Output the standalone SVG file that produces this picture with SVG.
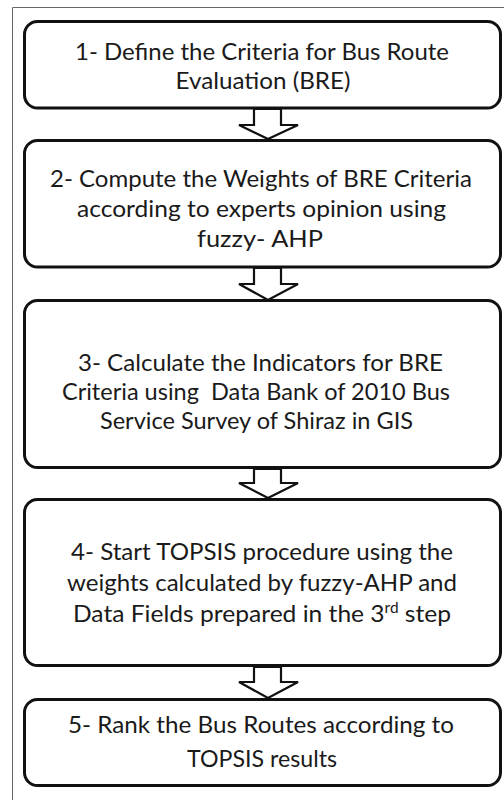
<svg xmlns="http://www.w3.org/2000/svg" width="504" height="800" viewBox="0 0 504 800">
<style>
.box{fill:#fff;stroke:#111;stroke-width:3}
.arr{fill:#fff;stroke:#111;stroke-width:2.2;stroke-linejoin:miter}
.t{font-family:Lato,"Open Sans","Liberation Sans",sans-serif;font-size:24px;fill:#1a1a1a;text-anchor:middle}
.frame{fill:none;stroke:#666;stroke-width:1}
</style>
<rect width="504" height="800" fill="#fff"/>
<path class="frame" d="M12.5,800 V7.5 H504"/>
<g id="node1">
<rect class="box" x="24.5" y="21.5" width="476" height="86.5" rx="13"/>
<text class="t" x="262" y="60" textLength="374" lengthAdjust="spacingAndGlyphs">1- Define the Criteria for Bus Route</text>
<text class="t" x="263" y="89" textLength="175" lengthAdjust="spacingAndGlyphs">Evaluation (BRE)</text>
</g>
<g id="node2">
<rect class="box" x="24.5" y="140.5" width="476" height="126.5" rx="13"/>
<text class="t" x="261" y="187" textLength="422" lengthAdjust="spacingAndGlyphs">2- Compute the Weights of BRE Criteria</text>
<text class="t" x="261.5" y="217" textLength="369" lengthAdjust="spacingAndGlyphs">according to experts opinion using</text>
<text class="t" x="260" y="247" textLength="126" lengthAdjust="spacingAndGlyphs">fuzzy- AHP</text>
</g>
<g id="node3">
<rect class="box" x="24.5" y="300.5" width="476" height="167" rx="13"/>
<text class="t" x="260.5" y="371" textLength="365" lengthAdjust="spacingAndGlyphs">3- Calculate the Indicators for BRE</text>
<text class="t" x="256" y="400" textLength="388" lengthAdjust="spacingAndGlyphs" xml:space="preserve">Criteria using  Data Bank of 2010 Bus</text>
<text class="t" x="256.5" y="429" textLength="313" lengthAdjust="spacingAndGlyphs">Service Survey of Shiraz in GIS</text>
</g>
<g id="node4">
<rect class="box" x="24.5" y="499.5" width="476" height="166" rx="13"/>
<text class="t" x="262" y="560" textLength="382" lengthAdjust="spacingAndGlyphs">4- Start TOPSIS procedure using the</text>
<text class="t" x="262" y="591" textLength="390" lengthAdjust="spacingAndGlyphs">weights calculated by fuzzy-AHP and</text>
<text class="t" x="262" y="622" textLength="378" lengthAdjust="spacingAndGlyphs">Data Fields prepared in the 3<tspan font-size="15" dy="-9">rd</tspan><tspan dy="9"> step</tspan></text>
</g>
<g id="node5">
<rect class="box" x="24.5" y="699.5" width="476" height="86" rx="13"/>
<text class="t" x="261" y="733" textLength="386" lengthAdjust="spacingAndGlyphs">5- Rank the Bus Routes according to</text>
<text class="t" x="262" y="767" textLength="150" lengthAdjust="spacingAndGlyphs">TOPSIS results</text>
</g>
<g id="connectors">
<polygon class="arr" points="254,109 281,109 281,125 298,125 268,139 239,125 254,125"/>
<polygon class="arr" points="254,268 281,268 281,284 298,284 268,300 239,284 254,284"/>
<polygon class="arr" points="254,469 281,469 281,483 298,483 268,498 239,483 254,483"/>
<polygon class="arr" points="254,667 281,667 281,682 298,682 268,698 239,682 254,682"/>
</g>
</svg>
